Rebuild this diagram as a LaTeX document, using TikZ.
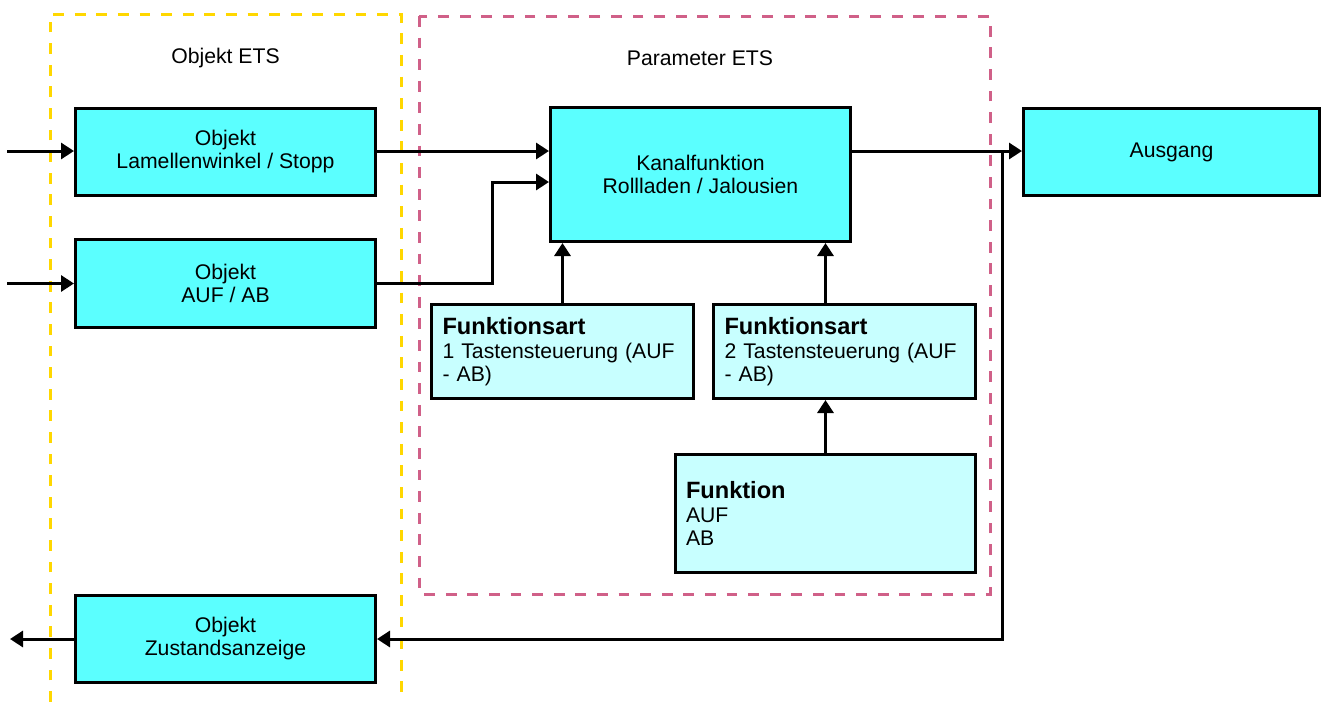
\documentclass[tikz,border=0pt]{standalone}
\usepackage{fontspec}
\setmainfont{Liberation Sans}
\usepackage{tikz}
\usetikzlibrary{arrows.meta,calc}

\definecolor{BoxCyan}{RGB}{91,255,255}
\definecolor{BoxLight}{RGB}{200,255,255}
\definecolor{FrameGold}{RGB}{255,215,0}
\definecolor{FramePink}{RGB}{208,96,136}

\begin{document}
\begin{tikzpicture}[x=0.5pt, y=-0.5pt, line width=1.5pt,
    >={Triangle[length=6.5pt, width=8pt]},
    every node/.style={font=\fontsize{10.6}{11.5}\selectfont},
    objbox/.style={draw, fill=BoxCyan, inner sep=0pt, align=center,
        minimum width=150pt, minimum height=43.5pt},
    parbox/.style={draw, fill=BoxLight, inner xsep=5.25pt, inner ysep=0pt,
        align=left, text width=120pt, minimum height=47pt}]

    \useasboundingbox (0,0) rectangle (1329,702);

    % frames
    \draw[FrameGold, line width=1.5pt, dash pattern=on 5.4pt off 5.4pt]
        (50,702) -- (50,14) -- (401,14) -- (401,702);
    \draw[FramePink, line width=1.5pt, dash pattern=on 5.4pt off 5.4pt]
        (419,16) rectangle (990,594);

    \node (lblObj) at (225.5,58) {Objekt ETS};
    \node (lblPar) at (700,58) {Parameter ETS};

    % objects
    \node[objbox] (ObjLS) at (225.5,152) {Objekt\\Lamellenwinkel / Stopp};
    \node[objbox, minimum height=44pt] (ObjAuf) at (225.5,283.5)
        {Objekt\\AUF / AB};
    \node[objbox] (ObjZust) at (225.5,639) {Objekt\\Zustandsanzeige};

    % parameters
    \node[objbox, minimum height=67pt] (Kanal) at (700.5,174.5)
        {Kanalfunktion\\Rollladen / Jalousien};
    \node[objbox, minimum width=148pt] (Ausgang) at (1171.5,152) {Ausgang};

    \node[parbox, minimum width=131pt] (Art1) at (562.5,351.5)
        {{\fontsize{11.8}{12.5}\selectfont\bfseries Funktionsart}\\[0.2pt]
         1 Tastensteuerung (AUF\\- AB)};
    \node[parbox, minimum width=131pt] (Art2) at (844.5,351.5)
        {{\fontsize{11.8}{12.5}\selectfont\bfseries Funktionsart}\\[0.2pt]
         2 Tastensteuerung (AUF\\- AB)};
    \node[parbox, text width=139.5pt, minimum height=59pt] (Funktion)
        at (825.5,513.5)
        {{\fontsize{11.8}{12.5}\selectfont\bfseries Funktion}\\[0.2pt]
         AUF\\AB};

    % free ends
    \coordinate (in1) at (7,151);
    \coordinate (in2) at (7,283.5);
    \coordinate (outZ) at (10,639);
    \coordinate (tap) at (1002,151);

    % connections
    \draw[->] (in1) -- (in1 -| ObjLS.west);
    \draw[->] (in2) -- (ObjAuf.west);
    \draw[->] (ObjZust.west) -- (outZ);

    \draw[->] (ObjLS.east |- in1) -- (in1 -| Kanal.west);
    \draw[->] (ObjAuf.east) -| (492,182) -- (Kanal.west |- 492,182);

    \draw[->] (Art1.north) -- (Art1.north |- Kanal.south);
    \draw[->] (Funktion.north |- Art2.north)
        -- (Funktion.north |- Kanal.south);
    \draw[->] (Funktion.north) -- (Funktion.north |- Art2.south);

    \draw[->] (Kanal.east |- in1) -- (in1 -| Ausgang.west);
    \draw[->] (tap) |- (ObjZust.east);

\end{tikzpicture}
\end{document}
